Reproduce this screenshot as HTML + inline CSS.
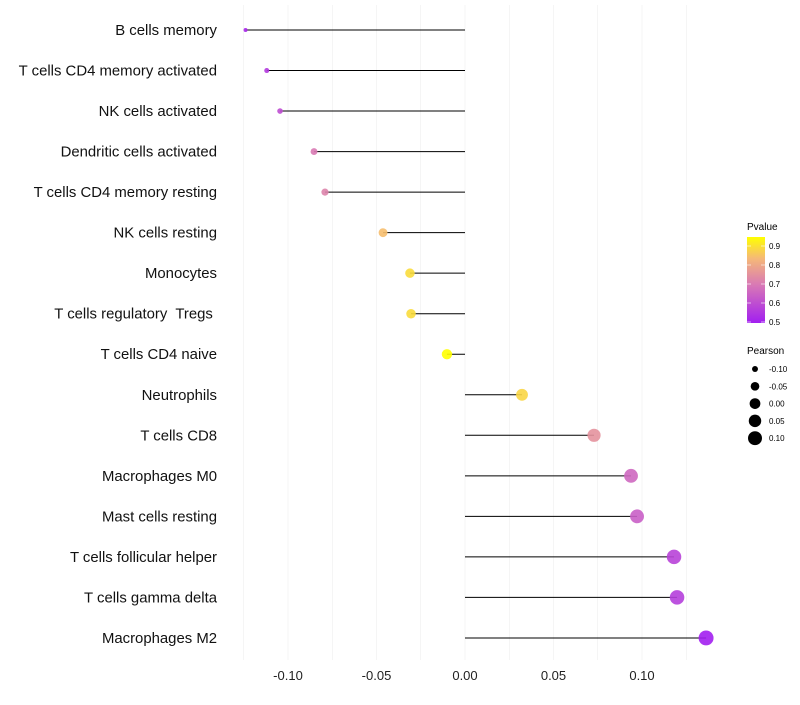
<!DOCTYPE html>
<html><head><meta charset="utf-8"><style>
body{margin:0;background:#fff;font-family:"Liberation Sans",sans-serif;}
</style></head><body>
<svg id="chart" width="800" height="700" xmlns="http://www.w3.org/2000/svg" font-family="Liberation Sans, sans-serif">
<defs><linearGradient id="pg" x1="0" y1="1" x2="0" y2="0">
<stop offset="0" stop-color="#a21ff0"/><stop offset="0.45" stop-color="#d97ab4"/><stop offset="0.75" stop-color="#f5b878"/><stop offset="1" stop-color="#ffff00"/></linearGradient></defs>
<g id="grid"></g><g id="marks"></g><g id="labels"></g>
<g>
<text x="747" y="230" font-size="10">Pvalue</text>
<rect x="747" y="237" width="18" height="86" fill="url(#pg)"/>
<g id="cbticks" font-size="8"></g>
<text x="747" y="354" font-size="10">Pearson</text>
<g id="sizeleg" font-size="8"></g>
</g>
</svg>
<script>
const categories=["B cells memory","T cells CD4 memory activated","NK cells activated","Dendritic cells activated","T cells CD4 memory resting","NK cells resting","Monocytes","T cells regulatory  Tregs ","T cells CD4 naive","Neutrophils","T cells CD8","Macrophages M0","Mast cells resting","T cells follicular helper","T cells gamma delta","Macrophages M2"];
const pearson=[-0.124,-0.112,-0.1045,-0.0853,-0.0791,-0.0463,-0.0311,-0.0305,-0.0102,0.0322,0.0729,0.0938,0.0972,0.1181,0.1198,0.1362];
const pvalues=[0.52,0.56,0.6,0.7,0.72,0.84,0.89,0.89,0.96,0.88,0.75,0.66,0.64,0.58,0.57,0.5];
const xTicks=[-0.10,-0.05,0.00,0.05,0.10];
const xTickLabels=["-0.10","-0.05","0.00","0.05","0.10"];
const cbTicks=[0.5,0.6,0.7,0.8,0.9];
const sizeTicks=[-0.10,-0.05,0.00,0.05,0.10];
const NS="http://www.w3.org/2000/svg";
const x=v=>465+v*1770;
const y=i=>30+i*40.53;
const r=v=>Math.sqrt(Math.max(1,28.8+v*200));
const cy=p=>322-(p-0.5)*190;
function col(p){const st=[[0.5,[162,31,240]],[0.7,[217,122,180]],[0.83,[245,184,120]],[0.95,[255,255,0]]];
p=Math.max(0.5,Math.min(0.95,p));for(let k=0;k<st.length-1;k++){if(p<=st[k+1][0]){const t=(p-st[k][0])/(st[k+1][0]-st[k][0]);const a=st[k][1],b=st[k+1][1];return `rgb(${a.map((c,j)=>Math.round(c+(b[j]-c)*t)).join(',')})`;}}return 'rgb(255,255,0)';}
function mk(tag,at,parent){const e=document.createElementNS(NS,tag);for(const k in at)e.setAttribute(k,at[k]);parent.appendChild(e);return e;}
const grid=document.getElementById('grid'),marks=document.getElementById('marks'),labels=document.getElementById('labels');
for(let v=-0.125;v<=0.126;v+=0.025){const g=mk('line',{x1:x(v),x2:x(v),y1:5,y2:660,stroke:'#ebebeb','stroke-width':Math.abs(Math.round(v*40)-v*40)<0.01?0.5:1},grid);

}
xTicks.forEach((v,i)=>{const t=mk('text',{x:x(v),y:680,'font-size':13,'text-anchor':'middle',fill:'#222'},labels);t.textContent=xTickLabels[i];

});
categories.forEach((c,i)=>{const t=mk('text',{x:217,y:y(i)+5,'font-size':14.9,'text-anchor':'end',fill:'#111'},labels);t.textContent=c;t.style.whiteSpace='pre';


const l=mk('line',{x1:x(0),x2:x(pearson[i]),y1:y(i),y2:y(i),stroke:'#000','stroke-width':1},marks);


const d=mk('circle',{cx:x(pearson[i]),cy:y(i),r:r(pearson[i]),fill:col(pvalues[i]),'fill-opacity':0.9},marks);

});
const cbt=document.getElementById('cbticks');
cbTicks.forEach(p=>{mk('line',{x1:747,x2:751,y1:cy(p),y2:cy(p),stroke:'#fff','stroke-width':0.6},cbt);mk('line',{x1:761,x2:765,y1:cy(p),y2:cy(p),stroke:'#fff','stroke-width':0.6},cbt);
const t=mk('text',{x:769,y:cy(p)+3},cbt);t.textContent=p.toFixed(1);

});
const sl=document.getElementById('sizeleg');
sizeTicks.forEach((v,i)=>{const c=mk('circle',{cx:755,cy:369+i*17.3,r:r(v),fill:'#000'},sl);


const t=mk('text',{x:769,y:372+i*17.3},sl);t.textContent=v.toFixed(2);

});
</script>
</body></html>
